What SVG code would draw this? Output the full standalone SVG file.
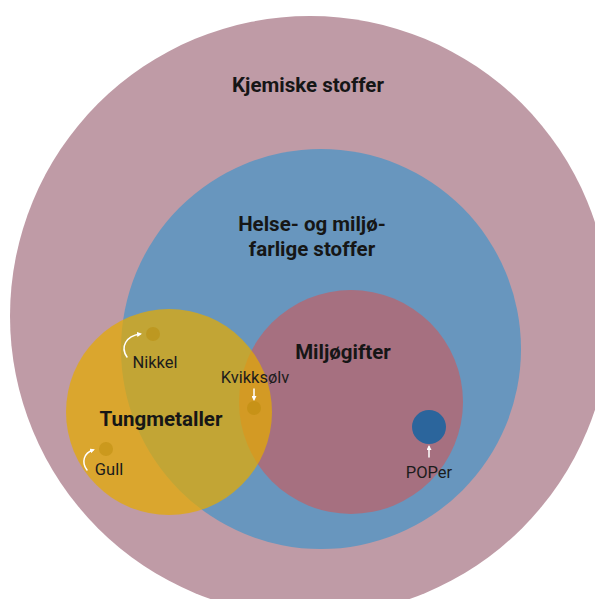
<svg xmlns="http://www.w3.org/2000/svg" width="595" height="599" viewBox="0 0 595 599">
  <style>
    .title { font-family: Roboto, "Liberation Sans", sans-serif; font-weight: bold; fill: #161616; text-anchor: middle; font-size: 20.5px; }
    .lbl { font-family: Roboto, "Liberation Sans", sans-serif; font-size: 16.5px; fill: #1c1c1c; text-anchor: middle; }
    .dot { fill: #b88a08; opacity: 0.45; }
    .arr { fill: none; stroke: #ffffff; stroke-width: 1.5; stroke-linecap: round; marker-end: url(#ah); }
  </style>
  <defs>
    <marker id="ah" viewBox="0 0 10 10" refX="6" refY="5" markerWidth="5" markerHeight="5" orient="auto" markerUnits="userSpaceOnUse">
      <path d="M0,0 L10,5 L0,10 Z" fill="#ffffff"/>
    </marker>
  </defs>
  <rect width="595" height="599" fill="#ffffff"/>
  <g id="kjemiske-stoffer">
    <circle cx="310" cy="316" r="300" fill="#bf9ba6"/>
    <text class="title" x="308" y="92">Kjemiske stoffer</text>
  </g>
  <g id="helse-miljofarlige">
    <circle cx="321" cy="349" r="200" fill="#6896be"/>
    <text class="title" x="312" y="231">Helse- og miljø-</text>
    <text class="title" x="312" y="256">farlige stoffer</text>
  </g>
  <g id="miljogifter">
    <circle cx="351" cy="402" r="112" fill="#a67080"/>
    <text class="title" x="343" y="359">Miljøgifter</text>
  </g>
  <g id="poper">
    <circle cx="429" cy="427" r="17" fill="#2b659c"/>
    <text class="lbl" x="429" y="478">POPer</text>
  </g>
  <g id="tungmetaller">
    <circle cx="169" cy="412" r="103" fill="#e4ab00" fill-opacity="0.72"/>
    <text class="title" x="161" y="426">Tungmetaller</text>
  </g>
  <g id="nikkel">
    <circle class="dot" cx="153" cy="334" r="7"/>
    <text class="lbl" x="155" y="368">Nikkel</text>
  </g>
  <g id="kvikksolv">
    <circle class="dot" cx="254" cy="408" r="7"/>
    <text class="lbl" x="255" y="383">Kvikksølv</text>
  </g>
  <g id="gull">
    <circle class="dot" cx="106" cy="449" r="7"/>
    <text class="lbl" x="109" y="475">Gull</text>
  </g>
  <g id="connectors">
    <path class="arr" d="M127,357 C120,347 126,336 140,334"/>
    <path class="arr" d="M87,470 C81,462 84,453 93,450"/>
    <path class="arr" d="M254,389 L254,399"/>
    <path class="arr" d="M429,457 L429,447"/>
  </g>
</svg>
